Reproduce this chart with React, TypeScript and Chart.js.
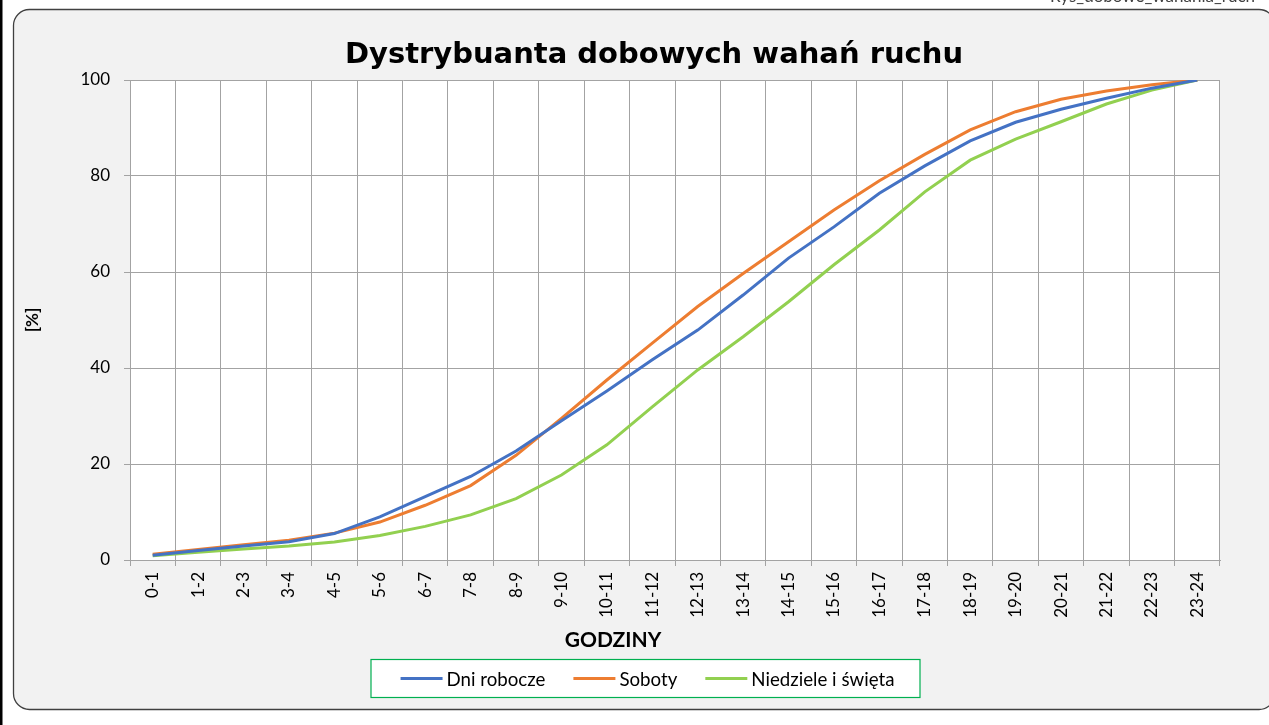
import React, { useEffect, useRef } from "react";
import { Chart, registerables } from "chart.js";

Chart.register(...registerables);

const hours = [
  "0-1", "1-2", "2-3", "3-4", "4-5", "5-6", "6-7", "7-8", "8-9", "9-10", "10-11", "11-12",
  "12-13", "13-14", "14-15", "15-16", "16-17", "17-18", "18-19", "19-20", "20-21", "21-22", "22-23", "23-24",
];
const dniRobocze = [1.0, 2.0, 2.9, 3.8, 5.5, 9.0, 13.2, 17.4, 22.7, 29.0, 35.2, 41.7, 47.9, 55.2, 62.9, 69.4, 76.4, 82.1, 87.3, 91.2, 93.9, 96.2, 98.3, 100];
const soboty = [1.2, 2.2, 3.2, 4.1, 5.6, 7.9, 11.4, 15.5, 21.8, 29.5, 37.5, 45.2, 52.8, 59.7, 66.3, 72.9, 79.0, 84.5, 89.6, 93.4, 96.0, 97.7, 99.0, 100];
const niedziele = [0.9, 1.6, 2.3, 2.9, 3.75, 5.1, 7.0, 9.4, 12.8, 17.7, 24.0, 31.9, 39.6, 46.5, 53.8, 61.5, 68.75, 76.7, 83.3, 87.7, 91.3, 95.0, 97.9, 100];

const seriesLabels = ["Dni robocze", "Soboty", "Niedziele i święta"];
const seriesColors = ["#4472C4", "#ED7D31", "#92D050"];
const chartTitle = "Dystrybuanta dobowych wahań ruchu";
const xTitle = "GODZINY";
const yTitle = "[%]";
const cornerText = "Rys_dobowe_wahania_ruch";
const yMin = 0;
const yMax = 100;
const yStep = 20;

const W = 1269;
const H = 725;
const gridColor = "#a3a3a3";
const tickFont = { family: "Lato", size: 17 };

const decorPlugin = {
  id: "decor",
  beforeDraw(chart: any) {
    const ctx = chart.ctx;
    const a = chart.chartArea;
    ctx.save();
    ctx.fillStyle = "#ffffff";
    ctx.fillRect(0, 0, W, H);
    // outer black line on the left
    ctx.fillStyle = "#000000";
    ctx.fillRect(0, 0, 2.5, H);
    // rounded panel
    ctx.beginPath();
    (ctx as any).roundRect(13.5, 9.5, 1275 - 13.5, 709.5 - 9.5, 16);
    ctx.fillStyle = "#f2f2f2";
    ctx.fill();
    ctx.lineWidth = 1.3;
    ctx.strokeStyle = "#404040";
    ctx.stroke();
    // plot area
    ctx.fillStyle = "#ffffff";
    ctx.fillRect(a.left, a.top, a.right - a.left, a.bottom - a.top);
    // clipped corner text
    ctx.font = "17px Lato";
    ctx.fillStyle = "#404040";
    ctx.textAlign = "left";
    ctx.textBaseline = "alphabetic";
    ctx.fillText(cornerText, 1050, 1.5);
    ctx.restore();
  },
  afterDraw(chart: any) {
    const ctx = chart.ctx;
    const a = chart.chartArea;
    ctx.save();
    // title
    ctx.fillStyle = "#000000";
    ctx.font = "bold 29px 'DejaVu Sans'";
    ctx.textAlign = "center";
    ctx.textBaseline = "alphabetic";
    ctx.fillText(chartTitle, 654, 63);
    // x title
    ctx.font = "bold 21px Lato";
    ctx.textBaseline = "middle";
    ctx.fillText(xTitle, 613, 640);
    // y title
    ctx.save();
    ctx.translate(33, (a.top + a.bottom) / 2);
    ctx.rotate(-Math.PI / 2);
    ctx.font = "bold 17px Lato";
    ctx.textAlign = "center";
    ctx.textBaseline = "middle";
    ctx.fillText(yTitle, 0, 0);
    ctx.restore();
    // legend
    const ds = chart.data.datasets;
    ctx.font = "18.7px Lato";
    const lineLen = 42;
    const gapLT = 4;
    const gapItem = 28;
    const widths = ds.map((d: any) => ctx.measureText(d.label).width);
    let content = 0;
    widths.forEach((w: number, i: number) => {
      content += lineLen + gapLT + w + (i > 0 ? gapItem : 0);
    });
    const boxL = 371;
    const boxR = 920;
    const boxT = 659.5;
    const boxB = 697.5;
    ctx.fillStyle = "#ffffff";
    ctx.fillRect(boxL, boxT, boxR - boxL, boxB - boxT);
    ctx.strokeStyle = "#00b050";
    ctx.lineWidth = 1.2;
    ctx.strokeRect(boxL, boxT, boxR - boxL, boxB - boxT);
    let x = (boxL + boxR) / 2 - content / 2 + 2;
    const cy = 678.5;
    ds.forEach((d: any, i: number) => {
      ctx.strokeStyle = d.borderColor;
      ctx.lineWidth = 3;
      ctx.beginPath();
      ctx.moveTo(x, cy);
      ctx.lineTo(x + lineLen, cy);
      ctx.stroke();
      x += lineLen + gapLT;
      ctx.fillStyle = "#000000";
      ctx.textAlign = "left";
      ctx.textBaseline = "middle";
      ctx.fillText(d.label, x, cy + 1);
      x += widths[i] + gapItem;
    });
    ctx.restore();
  },
};

export default function App() {
  const ref = useRef<HTMLCanvasElement | null>(null);
  useEffect(() => {
    if (!ref.current) return;
    const series = [dniRobocze, soboty, niedziele];
    const chart = new Chart(ref.current, {
      type: "line",
      data: {
        labels: hours,
        datasets: series.map((s, i) => ({
          label: seriesLabels[i],
          data: s,
          borderColor: seriesColors[i],
          backgroundColor: seriesColors[i],
          borderWidth: 3,
          pointRadius: 0,
          tension: 0,
          fill: false,
        })),
      },
      options: {
        animation: false,
        responsive: false,
        maintainAspectRatio: false,
        layout: { padding: { left: 20, right: 49, top: 80, bottom: 85 } },
        plugins: {
          legend: { display: false },
          title: { display: false },
          tooltip: { enabled: false },
        },
        scales: {
          x: {
            type: "category",
            offset: true,
            grid: { offset: true, color: gridColor, tickLength: 6, lineWidth: 1 },
            border: { color: gridColor },
            ticks: {
              autoSkip: false,
              maxRotation: 90,
              minRotation: 90,
              padding: 6,
              color: "#000000",
              font: tickFont,
            },
            afterFit: (s: any) => {
              s.height = 80;
            },
          },
          y: {
            min: yMin,
            max: yMax,
            grid: { color: gridColor, tickLength: 6, lineWidth: 1 },
            border: { color: gridColor },
            ticks: { stepSize: yStep, padding: 14, color: "#000000", font: tickFont },
            afterFit: (s: any) => {
              s.width = 110;
            },
          },
        },
      },
      plugins: [decorPlugin],
    });
    return () => chart.destroy();
  }, []);
  return (
    <div style={{ position: "fixed", left: 0, top: 0, width: W, height: H }}>
      <canvas ref={ref} width={W} height={H} style={{ display: "block", width: W, height: H }} />
    </div>
  );
}
